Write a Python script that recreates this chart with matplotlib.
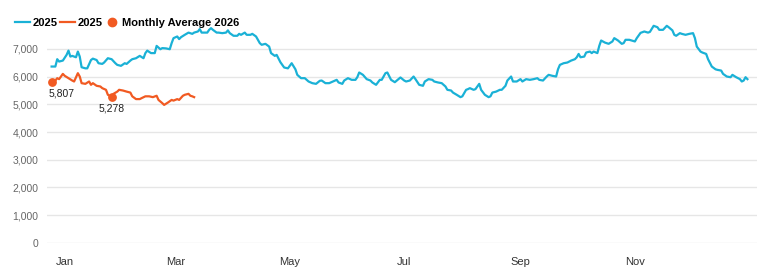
import matplotlib.pyplot as plt
from matplotlib.lines import Line2D

# day offsets from Jan 1 (negative = late Dec)
days_2025 = [-7, -5, -4, -3, -1, 1, 2, 3, 4, 6, 7, 8, 9, 11, 12, 14, 15, 17, 18, 20,
             21, 23, 25, 27, 28, 30, 32, 33, 35, 36, 38, 40, 42, 43, 44, 46, 48, 49, 51, 52,
             54, 56, 57, 58, 60, 61, 62, 64, 66, 68, 69, 71, 72, 73, 74, 76, 77, 78, 79, 81,
             82, 84, 86, 87, 88, 90, 92, 93, 94, 96, 97, 99, 100, 102, 104, 105, 107, 109, 110, 112,
             113, 115, 117, 119, 121, 123, 124, 126, 128, 130, 132, 134, 136, 137, 139, 141, 143, 145, 146, 148,
             149, 151, 153, 155, 156, 157, 159, 161, 163, 164, 166, 168, 169, 171, 172, 174, 176, 178, 179, 181,
             182, 184, 186, 187, 189, 191, 192, 194, 196, 197, 199, 201, 203, 204, 206, 207, 209, 211, 212, 214,
             215, 216, 218, 219, 221, 222, 224, 226, 227, 228, 230, 232, 233, 235, 236, 238, 239, 241, 243, 244,
             246, 248, 250, 252, 253, 255, 257, 258, 260, 262, 263, 264, 266, 268, 270, 272, 273, 274, 275, 277,
             278, 280, 281, 282, 284, 285, 286, 288, 290, 292, 293, 295, 297, 298, 299, 301, 304, 305, 307, 309,
             311, 312, 314, 316, 317, 319, 321, 322, 324, 325, 326, 328, 329, 331, 333, 335, 336, 337, 339, 340,
             342, 343, 345, 347, 348, 350, 351, 353, 355, 356, 358, 360, 361, 362, 363, 364]
vals_2025 = [6365, 6365, 6630, 6545, 6580, 6787, 6940, 6725, 6750, 6700, 6905, 6725, 6340, 6300, 6300, 6600, 6650, 6600, 6485, 6460,
             6510, 6665, 6630, 6485, 6425, 6390, 6485, 6460, 6580, 6630, 6665, 6750, 6665, 6850, 6940, 6850, 6850, 7110, 6990, 7030,
             7020, 6990, 7210, 7390, 7450, 7355, 7425, 7510, 7590, 7545, 7590, 7630, 7715, 7590, 7590, 7590, 7690, 7750, 7690, 7590,
             7590, 7570, 7590, 7670, 7570, 7475, 7475, 7545, 7510, 7590, 7510, 7510, 7545, 7450, 7210, 7150, 7185, 7085, 6850, 6750,
             6785, 6520, 6330, 6300, 6485, 6265, 6065, 5945, 5945, 5825, 5765, 5740, 5850, 5860, 5765, 5765, 5825, 5885, 5790, 5740,
             5860, 5945, 5885, 5885, 5980, 6150, 6065, 5910, 5860, 5790, 5705, 5885, 5885, 6125, 6150, 5885, 5800, 5910, 5970, 5860,
             5825, 5860, 6005, 5910, 5705, 5670, 5825, 5910, 5885, 5825, 5790, 5765, 5645, 5525, 5500, 5425, 5345, 5260, 5290, 5525,
             5550, 5585, 5525, 5550, 5740, 5525, 5345, 5260, 5290, 5425, 5460, 5525, 5525, 5670, 5860, 6005, 5825, 5825, 5910, 5825,
             5910, 5885, 5910, 5945, 5885, 5860, 6005, 6065, 6030, 6005, 6265, 6425, 6485, 6510, 6580, 6630, 6700, 6820, 6700, 6725,
             6870, 6905, 6850, 6905, 6850, 7110, 7305, 7230, 7185, 7270, 7390, 7305, 7185, 7210, 7330, 7330, 7270, 7390, 7580, 7630,
             7590, 7615, 7835, 7785, 7690, 7690, 7835, 7785, 7670, 7510, 7475, 7570, 7545, 7510, 7545, 7570, 7390, 7085, 6905, 6870,
             6820, 6630, 6365, 6265, 6245, 6220, 6100, 6005, 5980, 6065, 5980, 5910, 5825, 5860, 5980, 5910]

days_2026 = [-7, -5, -4, -3, -1, 0, 2, 4, 5, 7, 8, 9, 11, 13, 14, 15, 17, 19, 20, 22,
             23, 25, 26, 28, 29, 31, 33, 35, 36, 38, 40, 41, 43, 45, 47, 49, 50, 52, 53, 55,
             57, 58, 60, 61, 63, 64, 66, 67, 68, 69]
vals_2026 = [5807, 5860, 5945, 5910, 6100, 6030, 5945, 5860, 5825, 6125, 6005, 5765, 5740, 5825, 5705, 5765, 5670, 5645, 5585, 5525,
             5345, 5278, 5380, 5460, 5525, 5500, 5460, 5425, 5290, 5190, 5190, 5225, 5290, 5290, 5260, 5310, 5160, 5045, 4980, 5065,
             5160, 5135, 5190, 5160, 5310, 5345, 5380, 5310, 5290, 5260]

avg_days = [-7, 25]
avg_vals = [5807, 5278]

month_starts = [0, 59, 120, 181, 243, 304]
month_labels = ['Jan', 'Mar', 'May', 'Jul', 'Sep', 'Nov']
yticks = [0, 1000, 2000, 3000, 4000, 5000, 6000, 7000]

cyan = '#1ab1d6'
orange = '#f15a22'

plt.rcParams['font.family'] = ['Liberation Sans', 'DejaVu Sans']

fig = plt.figure(figsize=(7.66, 2.76), dpi=100)
ax = fig.add_axes([0.061, 0.12, 0.927, 0.793])

ax.plot(days_2025, vals_2025, color=cyan, lw=1.6, zorder=3)
ax.plot(days_2026, vals_2026, color=orange, lw=1.6, zorder=3)
ax.scatter(avg_days, avg_vals, color=orange, s=28, zorder=4)

offsets = [(7, -5), (0, -5)]
for d, v, off in zip(avg_days, avg_vals, offsets):
    ax.annotate(f'{v:,}', (d, v), xytext=off, textcoords='offset points',
                ha='center', va='top', fontsize=7.5, color='#222222')

ax.set_xlim(-9.6, 369)
ax.set_ylim(0, 7900)
ax.set_yticks(yticks)
ax.set_yticklabels([f'{t:,}' for t in yticks])
ax.set_xticks(month_starts)
ax.set_xticklabels(month_labels)
ax.tick_params(axis='y', length=0, labelsize=7.5, labelcolor='#666666', pad=6)
ax.tick_params(axis='x', length=0, labelsize=8, labelcolor='#333333', pad=10)
ax.grid(axis='y', color='#e6e6e6', lw=1)
ax.set_axisbelow(True)
for s in ax.spines.values():
    s.set_visible(False)

handles = [Line2D([], [], color=cyan, lw=1.6),
           Line2D([], [], color=orange, lw=1.6),
           Line2D([], [], color=orange, marker='o', ls='', markersize=6)]
fig.legend(handles, ['2025', '2025', 'Monthly Average 2026'], loc='upper left',
           bbox_to_anchor=(0.011, 0.96), ncol=3, frameon=False, handlelength=1.3,
           handletextpad=0.25, columnspacing=0.25, borderaxespad=0.2,
           prop={'weight': 'bold', 'size': 8})

fig.savefig('out.png', dpi=100)
